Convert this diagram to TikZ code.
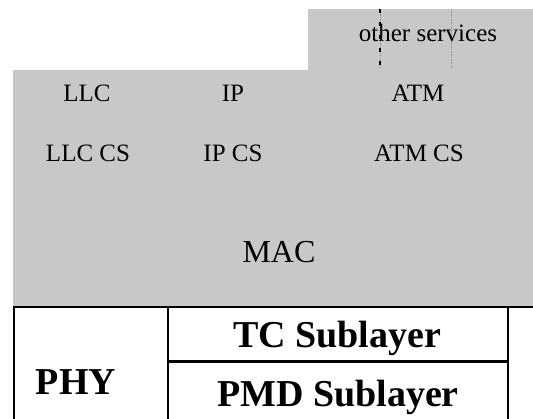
\documentclass[tikz,border=0pt]{standalone}
\usepackage{fontspec}
\setmainfont{Liberation Serif}
\definecolor{layergray}{RGB}{200,200,200}
\definecolor{dotgray}{RGB}{150,150,150}
\begin{document}
\begin{tikzpicture}[x=1pt,y=1pt,
  lbl/.style={inner sep=0pt,anchor=base,font=\fontsize{25}{30}\selectfont},
  biglbl/.style={inner sep=0pt,anchor=base,font=\fontsize{32}{38}\selectfont},
  boldlbl/.style={inner sep=0pt,anchor=base,font=\fontsize{38}{44}\selectfont\bfseries},
  rule/.style={line width=2.2pt,black}]
\useasboundingbox (0,0) rectangle (533,419);
% gray areas
\fill[layergray] (308,349) rectangle (533,410);
\fill[layergray] (13,112) rectangle (533,349);
% dashed dividers in the top box
\draw[dotgray,line width=0.6pt,densely dotted] (380,410) -- (380,351);
\draw[black,line width=1.8pt,dash pattern=on 4pt off 9pt] (380,410) -- (380,351);
\draw[dotgray,line width=0.6pt,densely dotted] (451,410) -- (451,351);
% texts
\node[lbl] (other) at (428,377) {other services};
\node[lbl] (llc) at (87,317) {LLC};
\node[lbl] (ip) at (233,317) {IP};
\node[lbl] (atm) at (418,317) {ATM};
\node[lbl] (llccs) at (88,257) {LLC CS};
\node[lbl] (ipcs) at (233,257) {IP CS};
\node[lbl] (atmcs) at (419,257) {ATM CS};
\node[biglbl] (mac) at (279,156) {MAC};
% physical layer table
\draw[rule] (13,112) -- (533,112);
\draw[rule] (14,113) -- (14,0);
\draw[rule] (168,113) -- (168,0);
\draw[black,line width=1.2pt] (508,113) -- (508,0);
\draw[line width=3pt,black] (168,57) -- (508,57);
\node[boldlbl] (phy) at (76,24) {PHY};
\node[boldlbl] (tc) at (337,71) {TC Sublayer};
\node[boldlbl] (pmd) at (338,12) {PMD Sublayer};
\end{tikzpicture}
\end{document}
